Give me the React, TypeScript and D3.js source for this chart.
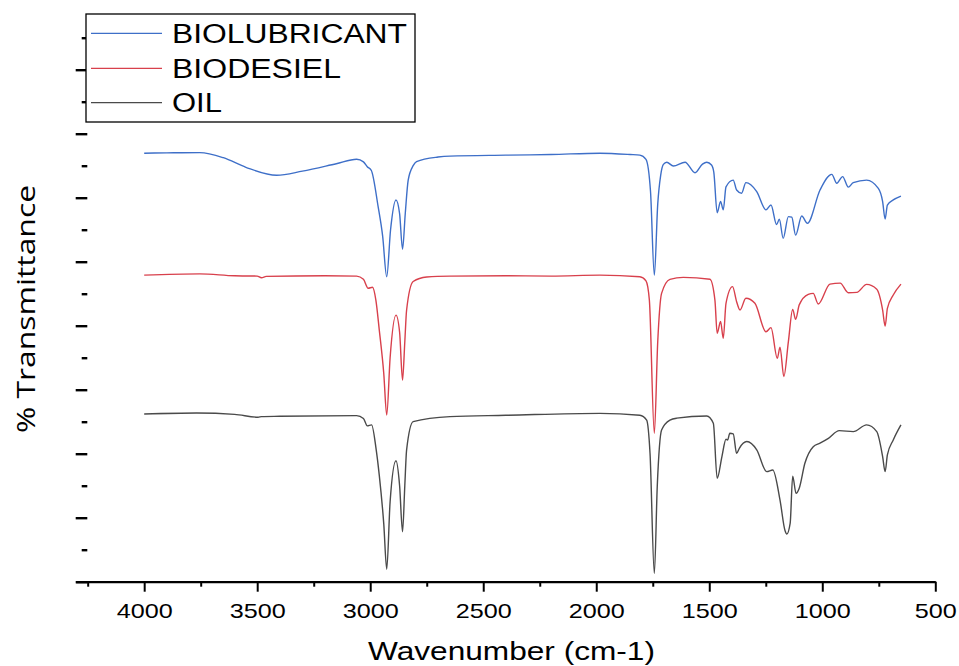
import React, { useEffect, useRef } from "react";
import * as d3 from "d3";

// FTIR spectra, [wavenumber, plotted transmittance (offset)]
const biolubricant: [number, number][] = [
  [4000, 133.9], [3900, 134.0], [3754, 134.1], [3650, 132.5], [3550, 129.5],
  [3414, 127.0], [3300, 128.3], [3150, 130.6], [3060, 132.0], [3030, 131.2],
  [3013, 129.7], [2995, 128.5], [2965, 117.2], [2945, 108.0], [2927, 95.3],
  [2910, 110.0], [2886, 119.3], [2870, 115.0], [2857, 103.9], [2845, 115.0],
  [2832, 125.5], [2810, 130.0], [2795, 131.3], [2700, 132.7], [2647, 133.0],
  [2400, 133.3], [2200, 133.5], [1984, 133.9], [1850, 133.5], [1807, 133.3],
  [1780, 132.0], [1760, 122.0], [1743, 95.8], [1728, 118.0], [1715, 127.0],
  [1703, 130.4], [1688, 131.1], [1659, 129.9], [1607, 131.1], [1563, 127.8],
  [1530, 130.5], [1511, 131.1], [1490, 130.2], [1480, 128.0], [1465, 115.3],
  [1450, 118.8], [1438, 116.2], [1426, 123.4], [1394, 125.5], [1379, 122.4],
  [1357, 121.4], [1338, 124.7], [1290, 121.9], [1249, 116.2], [1227, 117.7],
  [1202, 111.6], [1190, 113.3], [1173, 107.3], [1150, 114.1], [1135, 113.9],
  [1118, 108.3], [1091, 114.3], [1066, 112.0], [1010, 122.4], [958, 127.3],
  [936, 124.5], [910, 126.6], [885, 123.3], [863, 124.7], [804, 125.5],
  [752, 122.9], [733, 118.8], [722, 113.3], [712, 117.7], [686, 119.3],
  [652, 120.5]
];

const biodesiel: [number, number][] = [
  [4000, 95.8], [3754, 96.2], [3600, 95.6], [3500, 95.5], [3481, 95.0],
  [3460, 95.4], [3200, 95.6], [3060, 95.5], [3030, 94.5], [3009, 91.7],
  [2990, 92.0], [2975, 88.0], [2960, 78.7], [2940, 65.0], [2927, 52.1],
  [2912, 70.0], [2886, 83.3], [2870, 78.0], [2857, 63.0], [2847, 75.0],
  [2839, 84.9], [2810, 93.8], [2750, 95.2], [2647, 95.5], [2400, 95.6],
  [2200, 95.5], [1984, 95.8], [1807, 95.3], [1780, 94.0], [1765, 88.0],
  [1743, 46.4], [1728, 75.0], [1711, 90.1], [1674, 94.5], [1615, 95.1],
  [1497, 94.5], [1475, 88.0], [1465, 77.6], [1450, 81.3], [1438, 76.1],
  [1426, 87.0], [1397, 92.2], [1379, 87.5], [1364, 84.9], [1338, 88.6],
  [1298, 87.0], [1249, 78.1], [1227, 79.4], [1199, 69.8], [1187, 73.3],
  [1170, 64.1], [1150, 75.0], [1131, 85.1], [1118, 82.0], [1102, 86.5],
  [1062, 89.8], [1040, 90.1], [1018, 86.8], [966, 93.0], [921, 93.3],
  [885, 90.3], [847, 90.4], [804, 92.9], [759, 91.4], [733, 84.9],
  [722, 79.9], [712, 85.4], [686, 89.6], [652, 93.0]
];

const oil: [number, number][] = [
  [4000, 52.4], [3768, 52.7], [3600, 52.3], [3496, 51.4], [3481, 51.6],
  [3400, 51.7], [3060, 51.9], [3030, 51.0], [3013, 48.7], [2994, 49.0],
  [2975, 42.0], [2960, 33.3], [2940, 18.0], [2927, 3.9], [2912, 25.0],
  [2886, 37.8], [2870, 30.0], [2857, 15.6], [2847, 30.0], [2839, 41.2],
  [2810, 50.0], [2647, 51.6], [2400, 52.0], [1984, 52.6], [1807, 52.0],
  [1777, 50.5], [1762, 40.0], [1743, 2.6], [1730, 30.0], [1711, 47.4],
  [1674, 50.5], [1644, 51.1], [1511, 51.8], [1482, 49.5], [1465, 32.3],
  [1444, 39.1], [1426, 44.5], [1419, 44.3], [1409, 46.4], [1394, 46.2],
  [1379, 40.1], [1367, 41.7], [1334, 43.8], [1290, 41.2], [1246, 34.4],
  [1219, 34.9], [1187, 25.5], [1165, 16.0], [1157, 14.9], [1142, 18.3],
  [1131, 33.0], [1116, 27.6], [1102, 29.2], [1077, 37.0], [1040, 42.2],
  [1010, 43.3], [973, 44.8], [925, 47.2], [863, 46.9], [804, 49.0],
  [759, 46.9], [733, 39.1], [722, 34.4], [712, 39.6], [686, 44.3],
  [652, 49.0]
];

const seriesNames = ["BIOLUBRICANT", "BIODESIEL", "OIL"];
const seriesData = [biolubricant, biodesiel, oil];
const colours = ["#3e6fc8", "#d8404c", "#4a4a4a"];

const xMajorTicks = [4000, 3500, 3000, 2500, 2000, 1500, 1000, 500];
const xMinorTicks = [4250, 3750, 3250, 2750, 2250, 1750, 1250, 750];
const yMajorTicks = [0, 20, 40, 60, 80, 100, 120, 140, 160];
const yMinorTicks = [10, 30, 50, 70, 90, 110, 130, 150, 170];

function drawChart(node: SVGSVGElement) {
  const svg = d3.select(node);
  svg.selectAll("*").remove();

  const x = d3.scaleLinear().domain([4303, 500]).range([75.7, 935.3]);
  const y = d3.scaleLinear().domain([0, 180]).range([581.7, 5.7]);

  // x axis
  const xAxis = svg.append("g").attr("transform", "translate(0,581.7)");
  xAxis.call(
    d3
      .axisBottom(x)
      .tickValues(xMajorTicks)
      .tickFormat(d3.format("d"))
      .tickSize(10)
      .tickSizeOuter(0)
      .tickPadding(11.6)
  );
  xAxis.select(".domain").attr("stroke", "#000").attr("stroke-width", 2.2);
  xAxis.selectAll(".tick line").attr("stroke-width", 2);
  xAxis
    .selectAll(".tick text")
    .attr("font-family", "'Liberation Sans', Arial, sans-serif")
    .attr("font-size", 21)
    .attr("fill", "#000")
    .attr("textLength", (d: any) => (d >= 1000 ? 56 : 42))
    .attr("lengthAdjust", "spacingAndGlyphs");

  const xMinor = svg.append("g").attr("transform", "translate(0,581.7)");
  xMinor.call(d3.axisBottom(x).tickValues(xMinorTicks).tickSize(5).tickFormat(() => ""));
  xMinor.select(".domain").remove();
  xMinor.selectAll(".tick line").attr("stroke-width", 2);

  // y axis: ticks only, no labels
  const yAxis = svg.append("g").attr("transform", "translate(87.3,0)");
  yAxis.call(d3.axisLeft(y).tickValues(yMajorTicks).tickSize(11.6).tickFormat(() => ""));
  yAxis.select(".domain").remove();
  yAxis.selectAll(".tick line").attr("stroke-width", 2.4);

  const yMinor = svg.append("g").attr("transform", "translate(87.3,0)");
  yMinor.call(d3.axisLeft(y).tickValues(yMinorTicks).tickSize(5.6).tickFormat(() => ""));
  yMinor.select(".domain").remove();
  yMinor.selectAll(".tick line").attr("stroke-width", 2.4);

  // spectra
  const line = d3
    .line<[number, number]>()
    .x(d => x(d[0]))
    .y(d => y(d[1]))
    .curve(d3.curveMonotoneX);

  svg
    .append("g")
    .selectAll("path")
    .data(seriesData)
    .enter()
    .append("path")
    .attr("d", d => line(d))
    .attr("fill", "none")
    .attr("stroke", (d, i) => colours[i])
    .attr("stroke-width", 1.4)
    .attr("stroke-linejoin", "round");

  // axis titles
  svg
    .append("text")
    .attr("x", 511.5)
    .attr("y", 660)
    .attr("text-anchor", "middle")
    .attr("font-family", "'Liberation Sans', Arial, sans-serif")
    .attr("font-size", 25.5)
    .attr("textLength", 287)
    .attr("lengthAdjust", "spacingAndGlyphs")
    .text("Wavenumber (cm-1)");

  svg
    .append("text")
    .attr("transform", "translate(35,309) rotate(-90)")
    .attr("text-anchor", "middle")
    .attr("font-family", "'Open Sans', sans-serif")
    .attr("font-size", 26)
    .attr("textLength", 248)
    .attr("lengthAdjust", "spacingAndGlyphs")
    .text("% Transmittance");

  // legend
  const legend = svg.append("g");
  legend
    .append("rect")
    .attr("x", 86)
    .attr("y", 14)
    .attr("width", 329)
    .attr("height", 108)
    .attr("fill", "#fff")
    .attr("stroke", "#000")
    .attr("stroke-width", 1.3);

  const rowY = [33.3, 68.3, 102.7];
  const textLengths = [235, 169, 50];
  seriesNames.forEach((name, i) => {
    legend
      .append("line")
      .attr("x1", 91)
      .attr("x2", 162)
      .attr("y1", rowY[i])
      .attr("y2", rowY[i])
      .attr("stroke", colours[i])
      .attr("stroke-width", 1.2);
    legend
      .append("text")
      .attr("x", 172)
      .attr("y", rowY[i] + 9.7)
      .attr("font-family", "'Liberation Sans', Arial, sans-serif")
      .attr("font-size", 27)
      .attr("textLength", textLengths[i])
      .attr("lengthAdjust", "spacingAndGlyphs")
      .text(name);
  });
}

export default function App() {
  const ref = useRef<SVGSVGElement>(null);

  useEffect(() => {
    if (ref.current) drawChart(ref.current);
  }, []);

  return (
    <svg
      ref={ref}
      width={959}
      height={666}
      style={{ position: "absolute", left: 0, top: 0, background: "#fff" }}
    />
  );
}
